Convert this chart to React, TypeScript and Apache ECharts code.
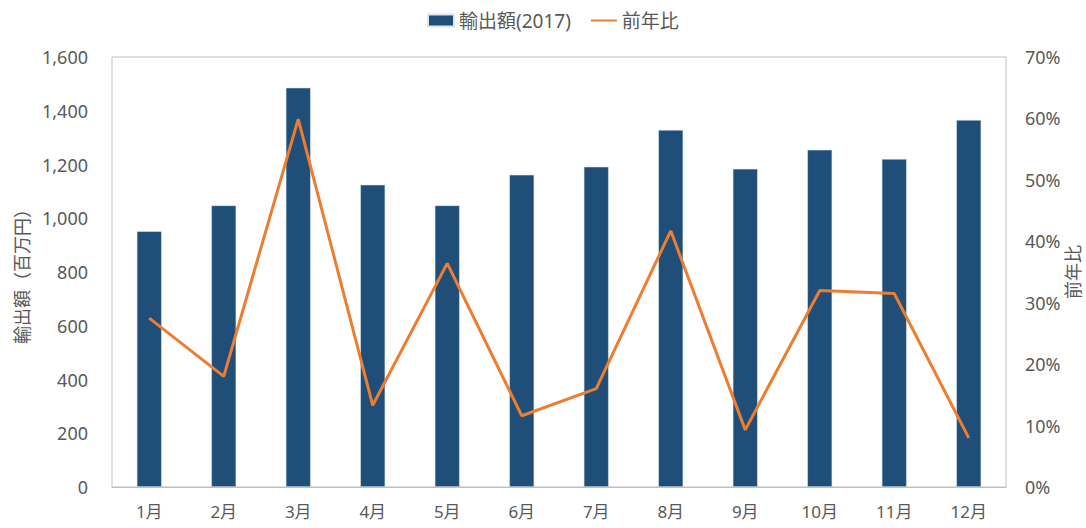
import React, { useEffect, useRef } from "react";
import * as echarts from "echarts";

const months = ["1月", "2月", "3月", "4月", "5月", "6月", "7月", "8月", "9月", "10月", "11月", "12月"];
const exportValues = [952, 1048, 1486, 1125, 1048, 1162, 1192, 1329, 1184, 1255, 1221, 1366];
const yoyValues = [27.5, 18.0, 59.9, 13.3, 36.4, 11.6, 16.0, 41.7, 9.3, 32.0, 31.5, 8.0];

const FONT = "'Noto Sans', 'Noto Sans CJK JP', sans-serif";
const GRAY = "#595959";

export default function App() {
  const ref = useRef<HTMLDivElement>(null);
  useEffect(() => {
    document.body.style.margin = "0";
    document.body.style.overflow = "hidden";
    document.documentElement.style.overflow = "hidden";
    const chart = echarts.init(ref.current!, undefined, { renderer: "svg" });
    chart.setOption({
      animation: false,
      textStyle: { fontFamily: FONT },
      legend: {
        top: 6,
        left: 422,
        itemWidth: 26,
        itemHeight: 12,
        itemGap: 19,
        textStyle: { fontFamily: FONT, fontSize: 19, color: GRAY },
        data: [
          { name: "輸出額(2017)", icon: "rect" },
          { name: "前年比", itemStyle: { opacity: 0 } },
        ],
      },
      grid: {
        left: 112,
        right: 80,
        top: 57,
        bottom: 41,
        show: true,
        borderColor: "#bfbfbf",
        borderWidth: 1,
        containLabel: false,
        outerBoundsMode: "none",
      },
      xAxis: {
        type: "category",
        data: months,
        axisLine: { lineStyle: { color: "#bfbfbf" } },
        axisTick: { show: false },
        axisLabel: { color: GRAY, fontSize: 17, fontFamily: FONT, margin: 16 },
      },
      yAxis: [
        {
          type: "value",
          min: 0,
          max: 1600,
          interval: 200,
          name: "輸出額（百万円）",
          nameLocation: "middle",
          nameRotate: 90,
          nameGap: 81,
          nameMoveOverlap: false,
          nameTextStyle: { color: GRAY, fontSize: 18, fontFamily: FONT },
          axisLine: { show: false },
          axisTick: { show: false },
          splitLine: { show: false },
          axisLabel: {
            color: GRAY,
            fontSize: 18,
            fontFamily: FONT,
            margin: 24,
            formatter: (v: number) => v.toLocaleString("en-US"),
          },
        },
        {
          type: "value",
          min: 0,
          max: 70,
          interval: 10,
          position: "right",
          name: "前年比",
          nameLocation: "middle",
          nameRotate: 90,
          nameGap: 58,
          nameMoveOverlap: false,
          nameTextStyle: { color: GRAY, fontSize: 18, fontFamily: FONT },
          axisLine: { show: false },
          axisTick: { show: false },
          splitLine: { show: false },
          axisLabel: {
            color: GRAY,
            fontSize: 18,
            fontFamily: FONT,
            margin: 19,
            formatter: "{value}%",
          },
        },
      ],
      series: [
        {
          name: "輸出額(2017)",
          type: "bar",
          data: exportValues,
          barWidth: 25,
          itemStyle: { color: "#1f4e79", borderColor: "#dde6ee", borderWidth: 0.6 },
        },
        {
          name: "前年比",
          type: "line",
          yAxisIndex: 1,
          data: yoyValues,
          symbol: "none",
          lineStyle: { color: "#ed7d31", width: 3 },
          itemStyle: { color: "#ed7d31" },
        },
      ],
    });
    return () => chart.dispose();
  }, []);
  return <div ref={ref} style={{ width: 1086, height: 528 }} />;
}
